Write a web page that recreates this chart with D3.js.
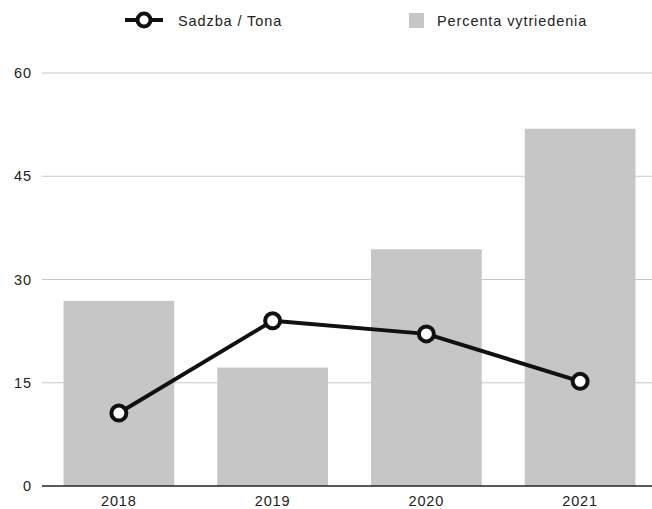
<!DOCTYPE html>
<html><head><meta charset="utf-8">
<script src="https://cdn.jsdelivr.net/npm/d3@7"></script>
<style>body{margin:0;background:#fff}svg{display:block;font-family:"Liberation Sans",Arial,sans-serif}</style>
</head><body>
<svg id="c" width="652" height="509"></svg>
<script>
const categories = ["2018","2019","2020","2021"];
const barValues = [26.9, 17.2, 34.4, 51.9];
const lineValues = [10.6, 24.0, 22.1, 15.2];
const yTicks = [0, 15, 30, 45, 60];
const seriesNames = ["Sadzba / Tona", "Percenta vytriedenia"];

const svg = d3.select("#c");
const x = d3.scaleBand().domain(categories).range([42, 657]).paddingInner(0.28).paddingOuter(0.14);
const y = d3.scaleLinear().domain([0, 60]).range([486, 73]);
const FS = 14.5, LS = 0.9;

// gridlines
svg.append("g").selectAll("line").data(yTicks.filter(d=>d>0)).join("line")
  .attr("x1", 42).attr("x2", 652).attr("y1", d=>y(d)).attr("y2", d=>y(d))
  .attr("stroke", "#c8c8c8").attr("stroke-width", 1.2);

// y labels
svg.append("g").selectAll("text").data(yTicks).join("text")
  .attr("x", 32).attr("y", d=>y(d)+5).attr("text-anchor","end")
  .attr("font-size", FS).attr("letter-spacing", LS).attr("fill", "#222").text(d=>d);

// bars
svg.append("g").selectAll("rect").data(barValues).join("rect")
  .attr("x", (d,i)=>x(categories[i])).attr("width", x.bandwidth())
  .attr("y", d=>y(d)).attr("height", d=>y(0)-y(d)).attr("fill", "#c6c6c6");

// baseline
svg.append("line").attr("x1", 42).attr("x2", 652).attr("y1", y(0)).attr("y2", y(0))
  .attr("stroke", "#222").attr("stroke-width", 1.5);

// x labels
svg.append("g").selectAll("text").data(categories).join("text")
  .attr("x", d=>x(d)+x.bandwidth()/2).attr("y", 506).attr("text-anchor","middle")
  .attr("font-size", FS).attr("letter-spacing", LS).attr("fill", "#222").text(d=>d);

// line
const line = d3.line().x((d,i)=>x(categories[i])+x.bandwidth()/2).y(d=>y(d));
svg.append("path").datum(lineValues).attr("d", line).attr("fill","none")
  .attr("stroke","#111").attr("stroke-width",4).attr("stroke-linejoin","round");
svg.append("g").selectAll("circle").data(lineValues).join("circle")
  .attr("cx",(d,i)=>x(categories[i])+x.bandwidth()/2).attr("cy", d=>y(d)).attr("r", 7.5)
  .attr("fill","#fff").attr("stroke","#111").attr("stroke-width",4);

// legend
const lg = svg.append("g");
lg.append("line").attr("x1",125).attr("x2",163).attr("y1",20).attr("y2",20).attr("stroke","#111").attr("stroke-width",4);
lg.append("circle").attr("cx",144).attr("cy",20).attr("r",6.5).attr("fill","#fff").attr("stroke","#111").attr("stroke-width",4);
lg.append("text").attr("x",178).attr("y",26).attr("font-size",FS).attr("letter-spacing", LS).attr("fill","#222").text(seriesNames[0]);
lg.append("rect").attr("x",409).attr("y",13).attr("width",15).attr("height",15).attr("fill","#c6c6c6");
lg.append("text").attr("x",437).attr("y",26).attr("font-size",FS).attr("letter-spacing", LS).attr("fill","#222").text(seriesNames[1]);
</script>
</body></html>
